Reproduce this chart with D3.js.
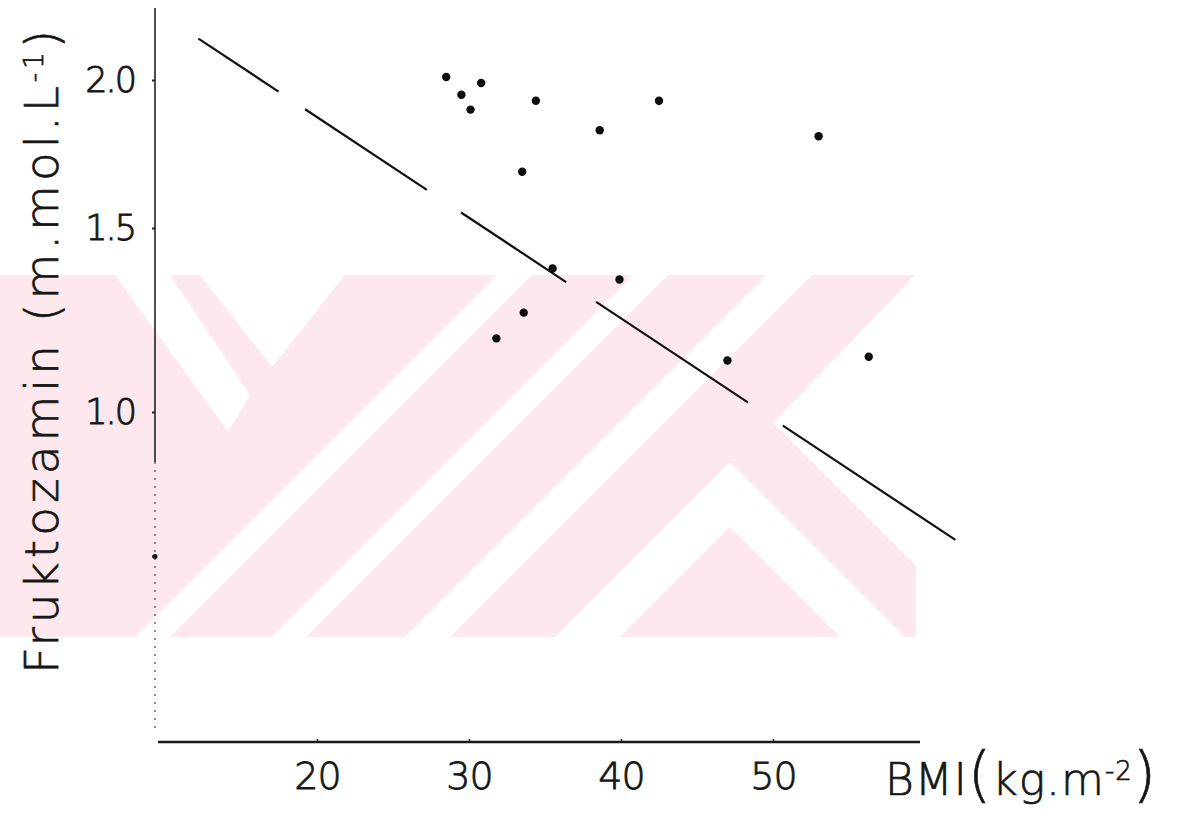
<!DOCTYPE html>
<html>
<head>
<meta charset="utf-8">
<title>Fruktozamin - BMI</title>
<script src="https://cdn.jsdelivr.net/npm/d3@7"></script>
<style>
  body { margin: 0; background: #fff; }
  text { font-family: "DejaVu Sans", sans-serif; fill: #161616; }
</style>
</head>
<body>
<script>
// values
const bmi = [28.5, 30.8, 29.5, 30.1, 34.4, 42.5, 38.6, 53.0, 33.5, 35.5, 39.9, 33.6, 31.8, 47.0, 56.3];
const fruktozamin = [2.01, 1.99, 1.95, 1.90, 1.93, 1.93, 1.83, 1.81, 1.69, 1.39, 1.36, 1.27, 1.20, 1.14, 1.15];
const xTicks = [20, 30, 40, 50];
const yTicks = [0.5, 1.0, 1.5, 2.0];
const yLabels = ["", "1.0", "1.5", "2.0"];
// regression line, two ends
const fitBmi = [12.2, 62.0];
const fitFrukt = [2.14, 0.556];

const w = 1184, h = 827;
const axisX = 155, axisY = 742;

const svg = d3.select("body").append("svg")
  .attr("width", w)
  .attr("height", h);

// pink watermark of the scan, drawn behind everything
const wm = svg.append("g");
wm.append("clipPath").attr("id", "wmclip")
  .append("rect").attr("x", 0).attr("y", 275).attr("width", 916).attr("height", 362);
const wmg = wm.append("g").attr("clip-path", "url(#wmclip)");
wmg.append("rect").attr("x", 0).attr("y", 275).attr("width", 916).attr("height", 362)
  .attr("fill", "#fde9ed");
const gaps = [
  [[115,275],[170,275],[250,395],[228,432]],
  [[200,275],[345,275],[272,367]],
  [[497,275],[532,275],[170,637],[135,637]],
  [[633,275],[668,275],[306,637],[271,637]],
  [[767,275],[812,275],[450,637],[405,637]],
  [[920,270],[773,423],[990,640],[1000,640],[1000,270]],
  [[730,462],[905,637],[840,637],[730,527],[620,637],[555,637]]
];
wmg.selectAll("polygon").data(gaps).join("polygon")
  .attr("points", d => d.map(p => p.join(",")).join(" "))
  .attr("fill", "#fff");

// scales (hand-drawn axis, ticks not evenly spaced on y)
const x = d3.scaleLinear().domain([10, 60]).range([165, 925]);
const y = d3.scaleLinear().domain([0.5, 1.0, 1.5, 2.0]).range([556, 412, 228, 80]);

// y axis: solid top, dotted bottom
svg.append("line")
  .attr("x1", axisX).attr("x2", axisX).attr("y1", 8).attr("y2", 462)
  .attr("stroke", "#222").attr("stroke-width", 1.6);
svg.append("line")
  .attr("x1", axisX).attr("x2", axisX).attr("y1", 462).attr("y2", 732)
  .attr("stroke", "#444").attr("stroke-width", 1.2)
  .attr("stroke-dasharray", "2 6");

// x axis line
svg.append("line")
  .attr("x1", 158).attr("x2", 920).attr("y1", axisY).attr("y2", axisY)
  .attr("stroke", "#1a1a1a").attr("stroke-width", 2.6);

const yAxis = svg.append("g")
  .attr("transform", `translate(${axisX},0)`)
  .call(d3.axisLeft(y).tickValues(yTicks).tickSize(3).tickPadding(17)
    .tickFormat((d, i) => yLabels[i]));
yAxis.select(".domain").remove();
yAxis.selectAll(".tick line").attr("stroke", "#222").attr("stroke-width", 2);
yAxis.selectAll(".tick text")
  .style("font-size", "35px").style("font-family", "'DejaVu Sans', sans-serif")
  .style("font-weight", 200).style("letter-spacing", "-2px")
  .attr("fill", "#161616").attr("stroke", "#161616").attr("stroke-width", 0.9);
yAxis.selectAll(".tick").filter(d => d === 0.5)
  .append("circle").attr("r", 2.5).attr("fill", "#111");

const xAxis = svg.append("g")
  .attr("transform", `translate(0,${axisY})`)
  .call(d3.axisBottom(x).tickValues(xTicks).tickSize(-3).tickPadding(20));
xAxis.select(".domain").remove();
xAxis.selectAll(".tick line").attr("stroke", "#222").attr("stroke-width", 1.5);
xAxis.selectAll(".tick text")
  .style("font-size", "38px").style("font-family", "'DejaVu Sans', sans-serif")
  .style("font-weight", 200).style("letter-spacing", "-1px")
  .attr("fill", "#161616").attr("stroke", "#161616").attr("stroke-width", 0.8);

// regression line (broken in the scan)
svg.append("path")
  .datum(d3.zip(fitBmi, fitFrukt))
  .attr("d", d3.line().x(d => x(d[0])).y(d => y(d[1])))
  .attr("fill", "none")
  .attr("stroke", "#111")
  .attr("stroke-width", 2.2)
  .attr("stroke-dasharray", "96 32 146 41 126 36 182 42 208");

// points
svg.append("g").selectAll("circle")
  .data(d3.zip(bmi, fruktozamin))
  .join("circle")
  .attr("cx", d => x(d[0]))
  .attr("cy", d => y(d[1]))
  .attr("r", 4.2)
  .attr("fill", "#0d0d0d");

// axis titles
const yt = svg.append("text")
  .attr("transform", "translate(58,350) rotate(-90)")
  .attr("text-anchor", "middle")
  .style("font-size", "47px")
  .style("font-weight", 200)
  .style("letter-spacing", "4px")
  .attr("stroke", "#161616").attr("stroke-width", 0.7);
yt.append("tspan").text("Fruktozamin (m.mol.L");
yt.append("tspan").attr("baseline-shift", "super").style("font-size", "26px").text("-1");
yt.append("tspan").text(")");

const xt = svg.append("text")
  .attr("x", 885).attr("y", 795)
  .style("font-size", "44px")
  .style("font-weight", 200)
  .style("letter-spacing", "1px")
  .attr("stroke", "#161616").attr("stroke-width", 0.7);
xt.append("tspan").text("BMI");
xt.append("tspan").style("font-size", "60px").text("(");
xt.append("tspan").text("kg.m");
xt.append("tspan").attr("baseline-shift", "super").style("font-size", "26px").text("-2");
xt.append("tspan").style("font-size", "60px").text(")");
</script>
</body>
</html>
